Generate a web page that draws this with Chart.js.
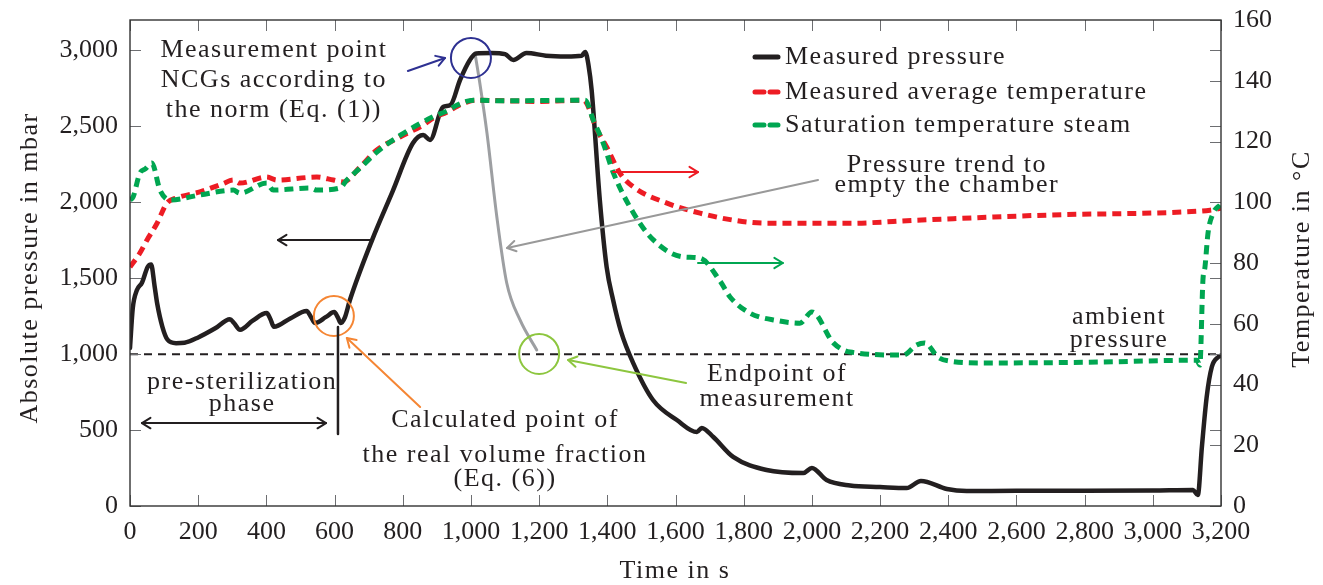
<!DOCTYPE html>
<html>
<head>
<meta charset="utf-8">
<script src="https://cdn.jsdelivr.net/npm/chart.js@4.4.0/dist/chart.umd.min.js"></script>
<style>
  html, body { margin: 0; padding: 0; background: #fff; }
  #wrap { width: 1323px; height: 585px; }
</style>
</head>
<body>
<div id="wrap"><canvas id="chart" width="1323" height="585"></canvas></div>
<script>
// axis ranges and tick values
const timeMax = 3200;
const pressureMax = 3200;
const tempMax = 160;
const timeTicks = [0, 200, 400, 600, 800, 1000, 1200, 1400, 1600, 1800, 2000, 2200, 2400, 2600, 2800, 3000, 3200];
const pressureTicks = [0, 500, 1000, 1500, 2000, 2500, 3000];
const tempTicks = [0, 20, 40, 60, 80, 100, 120, 140, 160];

// measured pressure (mbar)
const pressureTime = [0, 8, 20, 35, 52, 62, 72, 80, 95, 110, 135, 160, 200, 250, 293, 305, 323, 360, 401, 412, 422, 470, 518, 532, 543, 575, 599, 610, 618, 630, 645, 710, 770, 830, 860, 880, 918, 940, 968, 997, 1015, 1060, 1100, 1124, 1163, 1220, 1280, 1325, 1335, 1345, 1354, 1378, 1398, 1417, 1440, 1476, 1534, 1604, 1663, 1677, 1711, 1769, 1867, 1975, 2000, 2043, 2112, 2200, 2278, 2320, 2396, 2454, 2600, 2800, 3000, 3118, 3132, 3144, 3158, 3173, 3192, 3200];
const pressureValues = [1040, 1300, 1420, 1470, 1575, 1590, 1450, 1330, 1180, 1095, 1072, 1075, 1110, 1170, 1230, 1205, 1160, 1220, 1270, 1230, 1180, 1235, 1284, 1240, 1205, 1245, 1277, 1240, 1205, 1240, 1356, 1751, 2070, 2390, 2443, 2410, 2627, 2640, 2805, 2937, 2980, 2983, 2975, 2937, 2983, 2965, 2960, 2965, 2990, 2900, 2739, 2015, 1574, 1356, 1150, 941, 698, 566, 487, 514, 454, 323, 237, 217, 250, 171, 135, 125, 118, 165, 112, 99, 100, 100, 102, 105, 72, 390, 718, 915, 981, 990];

// measured average temperature (°C)
const avgTempTime = [0, 29, 50, 79, 108, 137, 205, 270, 303, 322, 401, 430, 548, 597, 626, 675, 724, 792, 861, 890, 929, 960, 988, 1017, 1100, 1200, 1330, 1370, 1398, 1437, 1477, 1575, 1672, 1770, 1867, 2112, 2308, 2699, 3090, 3168, 3200];
const avgTempValues = [78.7, 83.3, 87.6, 93, 99.7, 101.4, 103.4, 106, 107.3, 106.3, 108.3, 107.3, 108.3, 107.3, 106.7, 111.6, 117.2, 121.5, 125.5, 127.8, 129.6, 131.6, 133, 133.6, 133.4, 133.2, 133.6, 123.8, 118.2, 109.6, 105, 99.7, 96.4, 94.1, 93.1, 93.1, 94.1, 95.8, 96.8, 97.4, 98];

// saturation temperature steam (°C)
const satTempTime = [0, 9, 29, 45, 64, 88, 117, 205, 303, 322, 401, 420, 528, 548, 616, 636, 675, 724, 792, 890, 929, 960, 1007, 1100, 1200, 1335, 1359, 1388, 1418, 1477, 1535, 1623, 1672, 1731, 1760, 1818, 1900, 1965, 2000, 2063, 2112, 2268, 2307, 2331, 2370, 2405, 2503, 2800, 3129, 3138, 3147, 3153, 3162, 3177, 3197];
const satTempValues = [100.7, 101.7, 109.6, 111, 112.9, 104, 100.7, 102.4, 104, 103, 106.3, 104, 104.7, 104, 104.7, 107.3, 111.3, 116.5, 122, 128.2, 130, 132, 133.6, 133.4, 133.5, 133.6, 127, 119.5, 109.6, 96.4, 87.6, 82, 81.6, 74, 68.8, 63.5, 61, 60.2, 63.9, 53.7, 50.7, 49.7, 53, 53.7, 49, 47.7, 47.1, 47.3, 48, 46.4, 74.4, 78.7, 89.9, 96.4, 99.1];

// pressure trend to empty the chamber (mbar)
const trendTime = [1012, 1025, 1047, 1076, 1105, 1144, 1193];
const trendValues = [2980, 2800, 2456, 1903, 1468, 1225, 1027];

// ambient pressure (mbar)
const ambientTime = [0, 3200];
const ambientValues = [1000, 1000];

const FONT = "'Liberation Serif', 'DejaVu Serif', serif";
const INK = "#231f20";

function pairs(xs, ys) {
  return xs.map((x, i) => ({ x: x, y: ys[i] }));
}

// annotations in data units (time, pressure)
const circles = [
  { t: 1000, p: 2950, color: "#2e3192" },
  { t: 598, p: 1251, color: "#f58634" },
  { t: 1200, p: 1001, color: "#8dc63f" }
];
const arrows = [
  { t1: 815, p1: 2864, t2: 924, p2: 2950, color: "#2e3192" },
  { t1: 710, p1: 1751, t2: 434, p2: 1751, color: INK },
  { t1: 851, p1: 652, t2: 636, p2: 1106, color: "#f58634" },
  { t1: 2018, p1: 2146, t2: 1106, p2: 1699, color: "#999999" },
  { t1: 1417, p1: 2199, t2: 1666, p2: 2199, color: "#ed1c24" },
  { t1: 1666, p1: 1600, t2: 1915, p2: 1600, color: "#00a651" },
  { t1: 1631, p1: 810, t2: 1285, p2: 961, color: "#8dc63f" },
  { t1: 35, p1: 546, t2: 575, p2: 546, color: INK, both: true },
  { t1: 610, p1: 1178, t2: 610, p2: 474, color: INK, noHead: true, width: 2.5 }
];
const labels = [
  { text: "Measurement point", t: 422, p: 3002 },
  { text: "NCGs according to", t: 422, p: 2805 },
  { text: "the norm (Eq. (1))", t: 422, p: 2607 },
  { text: "pre-sterilization", t: 329, p: 816 },
  { text: "phase", t: 329, p: 672 },
  { text: "Calculated point of", t: 1100, p: 566 },
  { text: "the real volume fraction", t: 1100, p: 336 },
  { text: "(Eq. (6))", t: 1100, p: 178 },
  { text: "Pressure trend to", t: 2396, p: 2245 },
  { text: "empty the chamber", t: 2396, p: 2113 },
  { text: "Endpoint of", t: 1898, p: 869 },
  { text: "measurement", t: 1898, p: 705 },
  { text: "ambient", t: 2901, p: 1244 },
  { text: "pressure", t: 2901, p: 1093 }
];

function drawHead(ctx, x, y, ang) {
  const L = 10, s = 0.55;
  ctx.beginPath();
  ctx.moveTo(x - L * Math.cos(ang - s), y - L * Math.sin(ang - s));
  ctx.lineTo(x, y);
  ctx.lineTo(x - L * Math.cos(ang + s), y - L * Math.sin(ang + s));
  ctx.stroke();
}

const framePlugin = {
  id: "frame",
  afterDatasetsDraw(chart) {
    const { ctx, chartArea: a, scales: { x, y, y2 } } = chart;
    const tl = 11;
    ctx.save();
    ctx.strokeStyle = "#6d6e71";
    ctx.lineWidth = 1;
    const seg = (x1, y1, x2, y2) => { ctx.beginPath(); ctx.moveTo(x1, y1); ctx.lineTo(x2, y2); ctx.stroke(); };
    x.ticks.forEach(t => {
      const px = Math.round(x.getPixelForValue(t.value)) + 0.5;
      seg(px, a.bottom, px, a.bottom - tl);
      seg(px, a.top, px, a.top + tl);
    });
    y.ticks.forEach(t => {
      const py = Math.round(y.getPixelForValue(t.value)) + 0.5;
      seg(a.left, py, a.left + tl, py);
      seg(a.right, py, a.right - tl, py);
    });
    y2.ticks.forEach(t => {
      const py = Math.round(y2.getPixelForValue(t.value)) + 0.5;
      seg(a.right, py, a.right - tl, py);
    });
    ctx.strokeStyle = "#333";
    ctx.lineWidth = 1.4;
    ctx.strokeRect(a.left, a.top, a.right - a.left, a.bottom - a.top);
    ctx.restore();
  }
};

const annotationPlugin = {
  id: "notes",
  afterDraw(chart) {
    const { ctx, scales: { x, y } } = chart;
    const X = t => x.getPixelForValue(t);
    const Y = p => y.getPixelForValue(p);
    ctx.save();
    circles.forEach(c => {
      ctx.strokeStyle = c.color;
      ctx.lineWidth = 2;
      ctx.beginPath();
      ctx.arc(X(c.t), Y(c.p), 20, 0, Math.PI * 2);
      ctx.stroke();
    });
    arrows.forEach(ar => {
      const x1 = X(ar.t1), y1 = Y(ar.p1), x2 = X(ar.t2), y2 = Y(ar.p2);
      ctx.strokeStyle = ar.color;
      ctx.lineWidth = ar.width || 2;
      ctx.lineCap = "round";
      ctx.lineJoin = "round";
      ctx.beginPath();
      ctx.moveTo(x1, y1);
      ctx.lineTo(x2, y2);
      ctx.stroke();
      if (ar.noHead) return;
      const ang = Math.atan2(y2 - y1, x2 - x1);
      drawHead(ctx, x2, y2, ang);
      if (ar.both) drawHead(ctx, x1, y1, ang + Math.PI);
    });

    ctx.fillStyle = INK;
    ctx.font = "26px " + FONT;
    ctx.letterSpacing = "1.5px";
    ctx.textAlign = "center";
    ctx.textBaseline = "middle";
    labels.forEach(l => ctx.fillText(l.text, X(l.t), Y(l.p)));

    // legend
    const items = chart.data.datasets.filter(d => d.inLegend);
    const order = ["Measured pressure", "Measured average temperature", "Saturation temperature steam"];
    const rowY = [57, 92, 125];
    order.forEach((name, i) => {
      const d = items.find(it => it.label === name);
      ctx.save();
      ctx.strokeStyle = d.borderColor;
      ctx.lineWidth = 5;
      ctx.setLineDash(d.borderDash || []);
      ctx.beginPath();
      ctx.moveTo(755, rowY[i]);
      ctx.lineTo(778, rowY[i]);
      ctx.stroke();
      ctx.restore();
      ctx.textAlign = "left";
      ctx.fillText(d.label, 785, rowY[i]);
    });

    // axis titles
    ctx.textAlign = "center";
    ctx.fillText("Time in s", 675, 571);
    ctx.save();
    ctx.translate(30, 268);
    ctx.rotate(-Math.PI / 2);
    ctx.fillText("Absolute pressure in mbar", 0, 0);
    ctx.restore();
    ctx.save();
    ctx.translate(1302, 259);
    ctx.rotate(-Math.PI / 2);
    ctx.fillText("Temperature in \u00b0C", 0, 0);
    ctx.restore();
    ctx.restore();
  }
};

const tickFont = { family: FONT, size: 26 };
const setTicks = values => scale => { scale.ticks = values.map(v => ({ value: v })); };
const fixSize = (w, h) => scale => {
  if (w) scale.width = w;
  if (h) scale.height = h;
  scale.paddingTop = 0;
  scale.paddingBottom = 0;
  scale.paddingLeft = 0;
  scale.paddingRight = 0;
};

new Chart(document.getElementById("chart"), {
  type: "line",
  data: {
    datasets: [
      {
        label: "Saturation temperature steam", inLegend: true,
        data: pairs(satTempTime, satTempValues), yAxisID: "y2",
        borderColor: "#00a651", borderWidth: 5, borderDash: [9, 6], borderCapStyle: "butt",
        cubicInterpolationMode: "monotone", pointRadius: 0, fill: false
      },
      {
        label: "Measured average temperature", inLegend: true,
        data: pairs(avgTempTime, avgTempValues), yAxisID: "y2",
        borderColor: "#ed1c24", borderWidth: 5, borderDash: [9, 6], borderCapStyle: "butt",
        cubicInterpolationMode: "monotone", pointRadius: 0, fill: false
      },
      {
        label: "Measured pressure", inLegend: true,
        data: pairs(pressureTime, pressureValues), yAxisID: "y",
        borderColor: INK, borderWidth: 4.5, borderJoinStyle: "round", borderCapStyle: "round",
        cubicInterpolationMode: "monotone", pointRadius: 0, fill: false
      },
      {
        label: "Pressure trend",
        data: pairs(trendTime, trendValues), yAxisID: "y",
        borderColor: "#9d9fa2", borderWidth: 3, borderCapStyle: "round",
        cubicInterpolationMode: "monotone", pointRadius: 0, fill: false
      },
      {
        label: "Ambient pressure",
        data: pairs(ambientTime, ambientValues), yAxisID: "y",
        borderColor: INK, borderWidth: 2, borderDash: [8, 6],
        pointRadius: 0, fill: false
      }
    ]
  },
  options: {
    responsive: false,
    animation: false,
    locale: "en-US",
    layout: { padding: { top: 20, left: 0, right: 0, bottom: 0 } },
    plugins: { legend: { display: false }, tooltip: { enabled: false } },
    scales: {
      x: {
        type: "linear", min: 0, max: timeMax,
        afterBuildTicks: setTicks(timeTicks),
        ticks: { autoSkip: false, maxRotation: 0, minRotation: 0, padding: 11, font: tickFont, color: INK },
        grid: { display: false, drawTicks: false, tickLength: 0 },
        border: { display: false },
        afterFit: fixSize(0, 79)
      },
      y: {
        position: "left", min: 0, max: pressureMax,
        afterBuildTicks: setTicks(pressureTicks),
        ticks: { autoSkip: false, padding: 12, font: tickFont, color: INK },
        grid: { display: false, drawTicks: false, tickLength: 0 },
        border: { display: false },
        afterFit: fixSize(130, 0)
      },
      y2: {
        position: "right", min: 0, max: tempMax,
        afterBuildTicks: setTicks(tempTicks),
        ticks: { autoSkip: false, padding: 12, font: tickFont, color: INK },
        grid: { display: false, drawTicks: false, tickLength: 0 },
        border: { display: false },
        afterFit: fixSize(102, 0)
      }
    }
  },
  plugins: [framePlugin, annotationPlugin]
});
</script>
</body>
</html>
